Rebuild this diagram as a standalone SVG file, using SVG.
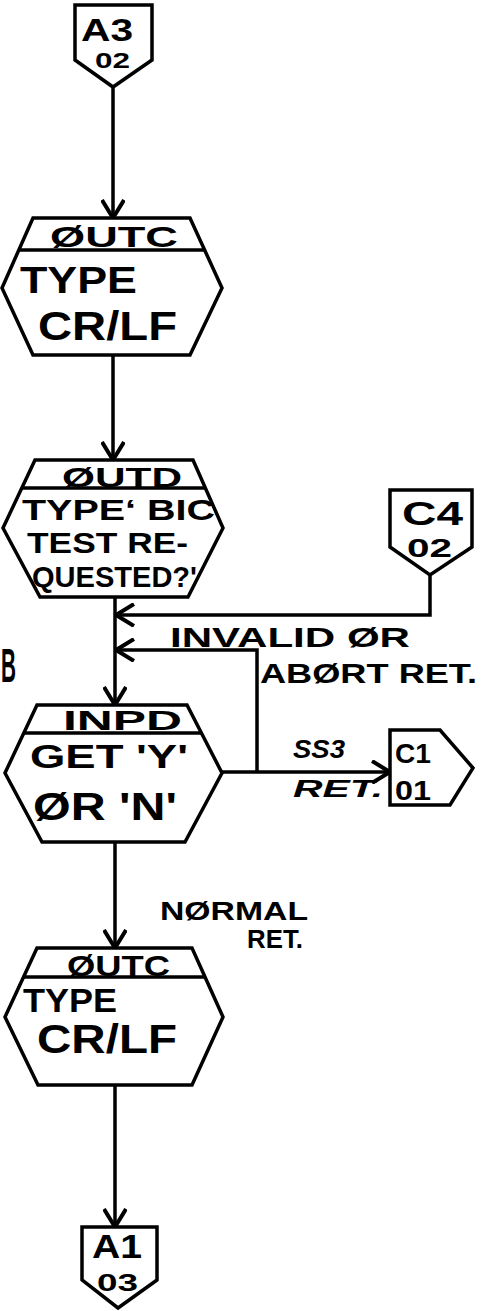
<svg xmlns="http://www.w3.org/2000/svg" width="482" height="1311" viewBox="0 0 482 1311">
<style>
.shape{fill:none;stroke:#000;stroke-width:3.5;stroke-linejoin:miter}
.band{fill:none;stroke:#000;stroke-width:3.5}
.edge{fill:none;stroke:#000;stroke-width:3.5}
text{font-family:"Liberation Sans",Arial,sans-serif;font-weight:bold;fill:#000}
</style>
<defs>
<marker id="arr" viewBox="0 0 20 24" refX="19" refY="12" markerWidth="20" markerHeight="24" markerUnits="userSpaceOnUse" orient="auto">
<path d="M1,1 L19,12 L1,23" fill="none" stroke="#000" stroke-width="4"/>
</marker>
</defs>
<rect width="482" height="1311" fill="#fff"/>

<g id="connectors">
<path class="edge" d="M113,87 L113,218" marker-end="url(#arr)"/>
<path class="edge" d="M113,355 L113,460" marker-end="url(#arr)"/>
<path class="edge" d="M115,597 L115,705" marker-end="url(#arr)"/>
<path class="edge" d="M430,575 L430,615 L116,615" marker-end="url(#arr)"/>
<path class="edge" d="M257,772 L257,650 L116,650" marker-end="url(#arr)"/>
<path class="edge" d="M222,772 L390,772" marker-end="url(#arr)"/>
<path class="edge" d="M115,842 L115,948" marker-end="url(#arr)"/>
<path class="edge" d="M115,1085 L115,1227" marker-end="url(#arr)"/>
<text x="170" y="647" font-size="28" textLength="240" lengthAdjust="spacingAndGlyphs">INVALID ØR</text>
<text x="260" y="683" font-size="28" textLength="217" lengthAdjust="spacingAndGlyphs">ABØRT RET.</text>
<text x="293" y="758" font-size="25" font-style="italic" textLength="52" lengthAdjust="spacingAndGlyphs">SS3</text>
<text x="293" y="797" font-size="24" font-style="italic" textLength="90" lengthAdjust="spacingAndGlyphs">RET.</text>
<text x="160" y="920" font-size="26" textLength="148" lengthAdjust="spacingAndGlyphs">NØRMAL</text>
<text x="247" y="948" font-size="26" textLength="56" lengthAdjust="spacingAndGlyphs">RET.</text>
</g>

<g id="offpage-B">
<text x="1" y="682" font-size="48" textLength="15" lengthAdjust="spacingAndGlyphs">B</text>
</g>

<g id="conn-A3-02">
<path class="shape" d="M75,5 L152,5 L152,60 L113,87 L75,60 Z"/>
<text x="81" y="41" font-size="32" textLength="52" lengthAdjust="spacingAndGlyphs">A3</text>
<text x="95" y="68" font-size="22" textLength="35" lengthAdjust="spacingAndGlyphs">02</text>
</g>

<g id="proc-outc-1">
<path class="shape" d="M33,218 L190,218 L222,288 L190,355 L33,355 L2,288 Z"/>
<line class="band" x1="19" y1="250" x2="205" y2="250"/>
<text x="50" y="247" font-size="30" textLength="128" lengthAdjust="spacingAndGlyphs">ØUTC</text>
<text x="20" y="293" font-size="36" textLength="117" lengthAdjust="spacingAndGlyphs">TYPE</text>
<text x="38" y="340" font-size="40" textLength="139" lengthAdjust="spacingAndGlyphs">CR/LF</text>
</g>

<g id="proc-outd">
<path class="shape" d="M35,460 L193,460 L223,528 L188,597 L40,597 L3,528 Z"/>
<line class="band" x1="22" y1="488" x2="205" y2="488"/>
<text x="62" y="487" font-size="28" textLength="120" lengthAdjust="spacingAndGlyphs">ØUTD</text>
<text x="22" y="520" font-size="30" textLength="193" lengthAdjust="spacingAndGlyphs">TYPE‘ BIC</text>
<text x="27" y="553" font-size="29" textLength="161" lengthAdjust="spacingAndGlyphs">TEST RE-</text>
<text x="32" y="587" font-size="30" textLength="165" lengthAdjust="spacingAndGlyphs">QUESTED?'</text>
</g>

<g id="conn-C4-02">
<path class="shape" d="M390,490 L472,490 L472,547 L430,575 L390,547 Z"/>
<text x="402" y="525" font-size="33" textLength="61" lengthAdjust="spacingAndGlyphs">C4</text>
<text x="407" y="557" font-size="25" textLength="45" lengthAdjust="spacingAndGlyphs">02</text>
</g>

<g id="proc-inpd">
<path class="shape" d="M37,705 L187,705 L222,773 L185,842 L42,842 L5,773 Z"/>
<line class="band" x1="24" y1="733" x2="201" y2="733"/>
<text x="63" y="730" font-size="28" textLength="119" lengthAdjust="spacingAndGlyphs">INPD</text>
<text x="30" y="768" font-size="34" textLength="158" lengthAdjust="spacingAndGlyphs">GET 'Y'</text>
<text x="33" y="820" font-size="38" textLength="144" lengthAdjust="spacingAndGlyphs">ØR 'N'</text>
</g>

<g id="conn-C1-01">
<path class="shape" d="M390,730 L440,730 L473,768 L450,805 L390,805 Z"/>
<text x="395" y="763" font-size="27" textLength="36" lengthAdjust="spacingAndGlyphs">C1</text>
<text x="395" y="800" font-size="28" textLength="36" lengthAdjust="spacingAndGlyphs">01</text>
</g>

<g id="proc-outc-2">
<path class="shape" d="M37,948 L192,948 L223,1017 L192,1085 L38,1085 L5,1017 Z"/>
<line class="band" x1="24" y1="977" x2="205" y2="977"/>
<text x="67" y="976" font-size="30" textLength="103" lengthAdjust="spacingAndGlyphs">ØUTC</text>
<text x="23" y="1012" font-size="34" textLength="94" lengthAdjust="spacingAndGlyphs">TYPE</text>
<text x="37" y="1053" font-size="40" textLength="140" lengthAdjust="spacingAndGlyphs">CR/LF</text>
</g>

<g id="conn-A1-03">
<path class="shape" d="M82,1227 L157,1227 L157,1280 L118,1308 L82,1280 Z"/>
<text x="92" y="1258" font-size="33" textLength="50" lengthAdjust="spacingAndGlyphs">A1</text>
<text x="97" y="1291" font-size="24" textLength="41" lengthAdjust="spacingAndGlyphs">03</text>
</g>
</svg>
